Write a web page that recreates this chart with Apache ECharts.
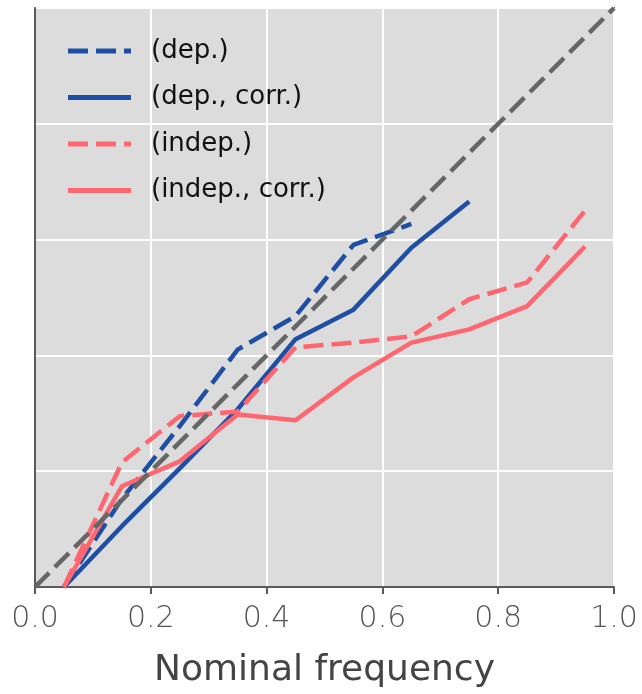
<!DOCTYPE html>
<html>
<head>
<meta charset="utf-8">
<script src="https://cdn.jsdelivr.net/npm/echarts@6/dist/echarts.min.js"></script>
<style>
html,body{margin:0;padding:0;background:#fff;}
#chart{width:642px;height:694px;}
</style>
</head>
<body>
<div id="chart"></div>
<script>
const xValues = [0.05, 0.15, 0.25, 0.35, 0.45, 0.55, 0.65, 0.75, 0.85, 0.95];
const depValues = [0.0, 0.152, 0.278, 0.41, 0.468, 0.591, 0.627];
const depCorrValues = [0.0, 0.105, 0.205, 0.307, 0.428, 0.479, 0.586, 0.666];
const indepValues = [0.0, 0.215, 0.295, 0.303, 0.414, 0.422, 0.433, 0.497, 0.526, 0.650];
const indepCorrValues = [0.0, 0.174, 0.217, 0.298, 0.288, 0.362, 0.422, 0.445, 0.485, 0.588];
const diagonal = [[0, 0], [1, 1]];
const xTicks = [0.0, 0.2, 0.4, 0.6, 0.8, 1.0];
const seriesNames = ['(dep.)', '(dep., corr.)', '(indep.)', '(indep., corr.)'];

const BLUE = '#1f4fa4';
const PINK = '#ff6670';
const dash = [20, 8];
function pairs(vals){ return vals.map((v,i)=>[xValues[i], v]); }

const DASH_ICON = 'path://M0,0H20V5H0Z M28,0H48V5H28Z M56,0H63V5H56Z';
const SOLID_ICON = 'path://M0,0H63V5H0Z';

const chart = echarts.init(document.getElementById('chart'));
const font = '"DejaVu Sans", sans-serif';
function mk(name, vals, color, dashed){
  return {
    name: name, type: 'line', data: pairs(vals), symbol: 'none',
    lineStyle: {color: color, width: 4.5, type: dashed ? dash : 'solid'},
    itemStyle: {color: color},
    animation: false
  };
}
chart.setOption({
  animation: false,
  grid: {left: 35, right: 28, top: 8, bottom: 106, show: true, backgroundColor: '#dcdcdc', borderColor: '#5a5a5a', borderWidth: 2},
  legend: {
    orient: 'vertical', left: 63, top: 31,
    itemWidth: 63, itemHeight: 5, itemGap: 16.5,
    textStyle: {fontFamily: font, fontSize: 26, color: '#111', padding: [0,0,0,15], lineHeight: 30},
    data: [
      {name: seriesNames[0], icon: DASH_ICON},
      {name: seriesNames[1], icon: SOLID_ICON},
      {name: seriesNames[2], icon: DASH_ICON},
      {name: seriesNames[3], icon: SOLID_ICON}
    ]
  },
  xAxis: {
    type: 'value', min: 0, max: 1, interval: 0.2,
    name: 'Nominal frequency', nameLocation: 'middle', nameGap: 66,
    nameTextStyle: {fontFamily: font, fontSize: 36, color: '#444'},
    axisLine: {show: true, lineStyle: {color: '#5a5a5a', width: 2}},
    axisTick: {show: true, length: 7, lineStyle: {color: '#5a5a5a', width: 2}},
    axisLabel: {fontFamily: font, fontWeight: 200, fontSize: 30, color: '#555', margin: 17, formatter: v => v.toFixed(1)},
    splitLine: {show: true, lineStyle: {color: '#ffffff', width: 2}}
  },
  yAxis: {
    type: 'value', min: 0, max: 1, interval: 0.2,
    axisLine: {show: true, lineStyle: {color: '#5a5a5a', width: 2}},
    axisTick: {show: false},
    axisLabel: {show: false},
    splitLine: {show: true, lineStyle: {color: '#ffffff', width: 2}}
  },
  series: [
    mk(seriesNames[0], depValues, BLUE, true),
    mk(seriesNames[1], depCorrValues, BLUE, false),
    mk(seriesNames[2], indepValues, PINK, true),
    mk(seriesNames[3], indepCorrValues, PINK, false),
    {
      name: 'diag', type: 'line', data: diagonal, symbol: 'none',
      lineStyle: {color: '#666666', width: 4.5, type: dash}, z: 3
    }
  ]
});
</script>
</body>
</html>
